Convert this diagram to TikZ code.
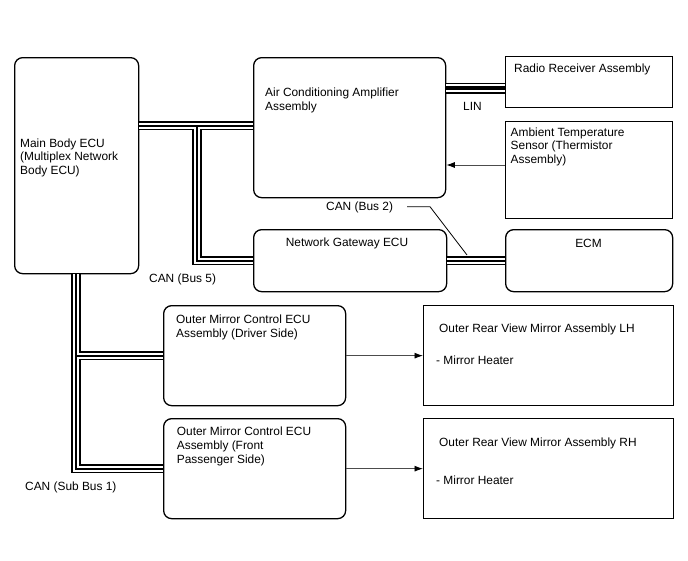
\documentclass[tikz,border=0pt]{standalone}
\usepackage{fontspec}
\setmainfont{Liberation Sans}
\usetikzlibrary{arrows.meta}
\begin{document}
\begin{tikzpicture}[x=1pt,y=-1pt,
  font=\fontsize{11.9}{13.7}\selectfont,
  rbox/.style={draw, line width=1.3pt, rounded corners=8pt, inner sep=0pt, anchor=north west},
  sbox/.style={draw, line width=1.3pt, inner sep=0pt, anchor=north west},
  txt/.style={anchor=north west, inner sep=0pt, align=left, yshift=9.59pt},
  ctxt/.style={anchor=base, inner sep=0pt},
  busA/.style={line width=9.5pt, line join=miter},
  busB/.style={white, line width=6pt, line join=miter},
  busC/.style={line width=2pt, line join=miter},
  linA/.style={line width=11pt},
  linB/.style={white, line width=7.5pt},
  linC/.style={line width=3.5pt},
  sig/.style={draw=black!70, line width=0.9pt, -{Latex[length=8.5pt,width=6pt,color=black]}},
  leader/.style={draw, line width=0.8pt}]
\useasboundingbox (0,0) rectangle (688,560);

% boxes
\node[rbox, minimum width=124pt, minimum height=216pt] (mb) at (14,57) {};
\node[rbox, minimum width=192pt, minimum height=140pt] (ac) at (253,57) {};
\node[sbox, minimum width=167pt, minimum height=51pt] (radio) at (505,56) {};
\node[sbox, minimum width=167pt, minimum height=97pt] (amb) at (505,121) {};
\node[rbox, minimum width=193pt, minimum height=62pt] (ng) at (253,229) {};
\node[rbox, minimum width=167pt, minimum height=62pt] (ecm) at (505,229) {};
\node[rbox, minimum width=182pt, minimum height=100pt] (drv) at (163,305) {};
\node[sbox, minimum width=250pt, minimum height=100pt] (lh) at (423,305) {};
\node[rbox, minimum width=182pt, minimum height=100pt] (pas) at (163,418) {};
\node[sbox, minimum width=250pt, minimum height=100pt] (rh) at (423,418) {};

% texts
\node[txt] (mbt) at (20,147) {\strut Main Body ECU\\(Multiplex Network\\Body ECU)};
\node[txt] (act) at (265,96.7) {\strut Air Conditioning Amplifier\\Assembly};
\node[txt] (rat) at (514,72.7) {\strut Radio Receiver Assembly};
\node[txt] (amt) at (510.5,136) {\strut Ambient Temperature\\Sensor (Thermistor\\Assembly)};
\node[txt] (lint) at (463,110) {\strut LIN};
\node[txt] (can2) at (326,210.7) {\strut CAN (Bus 2)};
\node[ctxt] (ngt) at (347,246.7) {Network Gateway ECU};
\node[ctxt] (ecmt) at (588.5,247) {ECM};
\node[txt] (can5) at (149,282.7) {\strut CAN (Bus 5)};
\node[txt] (drvt) at (176,323.3) {\strut Outer Mirror Control ECU\\Assembly (Driver Side)};
\node[txt] (lht) at (439,332.7) {\strut Outer Rear View Mirror Assembly LH};
\node[txt] (lhh) at (436,364) {\strut - Mirror Heater};
\node[txt] (past) at (176.7,435.7) {\strut Outer Mirror Control ECU\\Assembly (Front\\Passenger Side)};
\node[txt] (rht) at (439,446.7) {\strut Outer Rear View Mirror Assembly RH};
\node[txt] (rhh) at (436,484) {\strut - Mirror Heater};
\node[txt] (can1) at (25,490.7) {\strut CAN (Sub Bus 1)};

% bus coordinates
\coordinate (b5) at (0,125.5);
\coordinate (b5x) at (197,0);
\coordinate (sbx) at (76,0);
\coordinate (liny) at (0,88);

\newcommand\busroutes[1]{%
  \draw[#1] (mb.east |- b5) -- (ac.west |- b5);
  \draw[#1] (b5x |- b5) -- (b5x |- ng.west) -- (ng.west);
  \draw[#1] (ng.east) -- (ecm.west);
  \draw[#1] (sbx |- mb.south) -- (sbx |- pas.west) -- (pas.west);
  \draw[#1] (sbx |- drv.west) -- (drv.west);
}
\busroutes{busA}
\busroutes{busB}
\busroutes{busC}

\draw[linA] (ac.east |- liny) -- (radio.west |- liny);
\draw[linB] (ac.east |- liny) -- (radio.west |- liny);
\draw[linC] (ac.east |- liny) -- (radio.west |- liny);

% signal arrows
\coordinate (ay) at (0,165);
\draw[sig] (amb.west |- ay) -- (ac.east |- ay);
\draw[sig] (drv.east) -- (lh.west);
\draw[sig] (pas.east) -- (rh.west);

% leader for CAN (Bus 2)
\coordinate (l1) at (407,206.7);
\coordinate (l2) at (430,206.7);
\coordinate (l3) at (467,255);
\draw[leader] (l1) -- (l2) -- (l3);
\end{tikzpicture}
\end{document}
